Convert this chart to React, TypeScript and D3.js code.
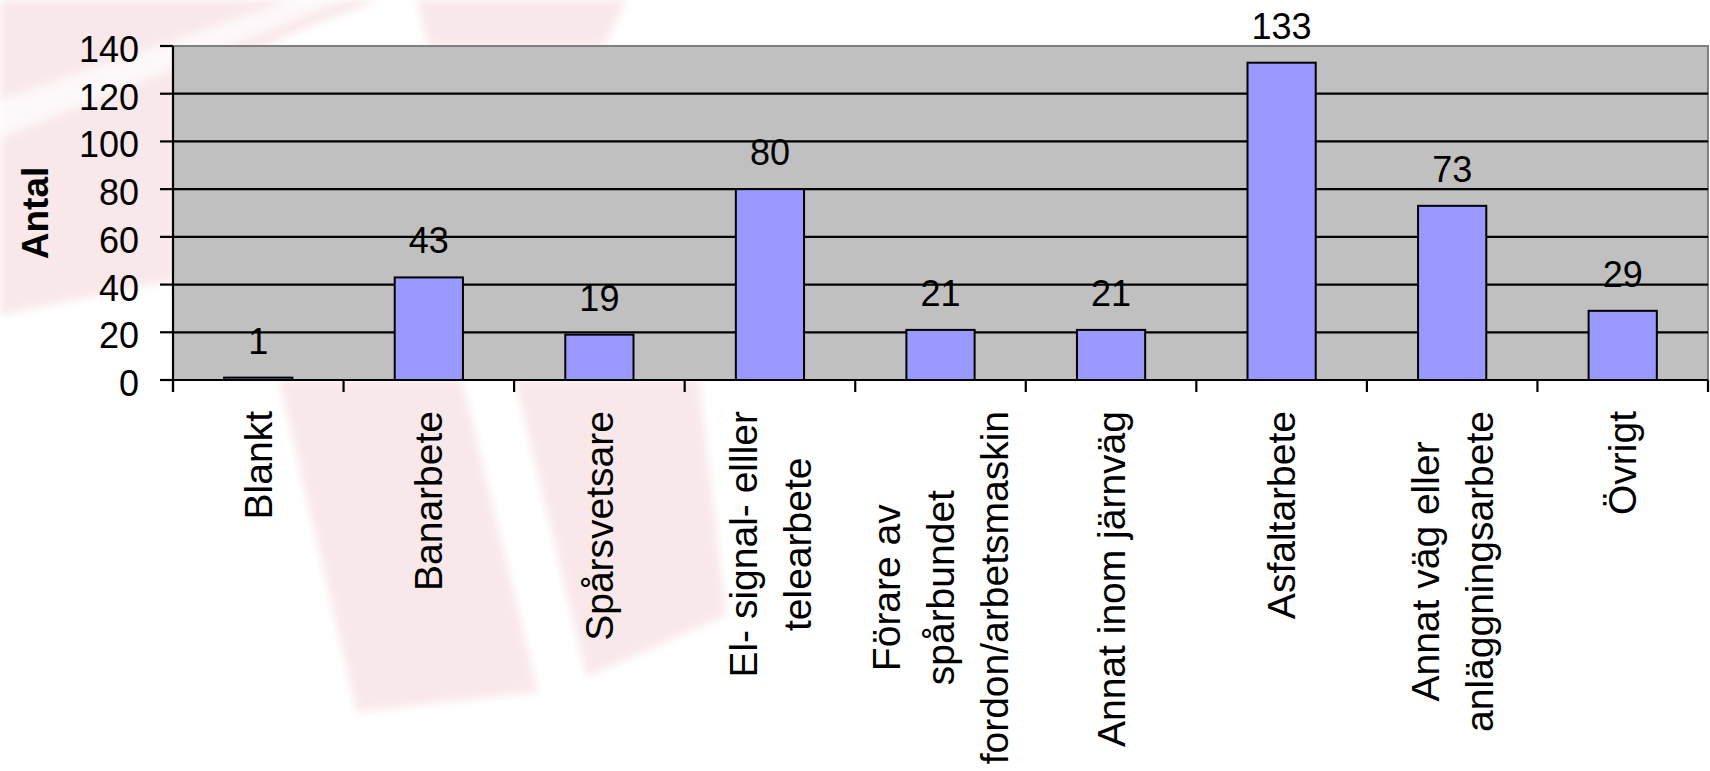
import React, { useEffect, useRef } from "react";
import * as d3 from "d3";

const categories: string[] = [
  "Blankt",
  "Banarbete",
  "Spårsvetsare",
  "El- signal- elller\ntelearbete",
  "Förare av\nspårbundet\nfordon/arbetsmaskin",
  "Annat inom järnväg",
  "Asfaltarbete",
  "Annat väg eller\nanläggningsarbete",
  "Övrigt",
];
const values: number[] = [1, 43, 19, 80, 21, 21, 133, 73, 29];
const yTicks: number[] = [0, 20, 40, 60, 80, 100, 120, 140];
const yTitle = "Antal";

const W = 1710;
const H = 771;
const FONT = "'Liberation Sans', Arial, sans-serif";

// watermark shapes (decorative background)
const watermark: [number, number][][] = [
  [[0, 0], [380, 0], [300, 30], [215, 70], [175, 95], [175, 280], [0, 315]],
  [[417, 0], [627, 0], [604, 46], [428, 46]],
  [[279, 380], [462, 380], [538, 692], [357, 712]],
  [[515, 380], [699, 380], [726, 615], [587, 677]],
];
const watermarkStreak: [number, number][] = [[0, 100], [290, 0], [345, 0], [0, 138]];

export default function App() {
  const ref = useRef<SVGSVGElement>(null);

  useEffect(() => {
    const svg = d3.select(ref.current);
    svg.selectAll("*").remove();

    const left = 173, right = 1708, top = 46, bottom = 380;

    const defs = svg.append("defs");
    defs.append("filter").attr("id", "soft")
      .append("feGaussianBlur").attr("stdDeviation", 4);

    svg.append("rect").attr("width", W).attr("height", H).attr("fill", "#ffffff");

    const wm = svg.append("g").attr("filter", "url(#soft)");
    const line = d3.line();
    watermark.forEach((p) => {
      wm.append("path").attr("d", line(p) + "Z").attr("fill", "#f9e8ea");
    });
    wm.append("path").attr("d", line(watermarkStreak) + "Z").attr("fill", "#ffffff").attr("opacity", 0.7);

    const x = d3.scaleBand<string>().domain(categories).range([left, right]).paddingInner(0).paddingOuter(0);
    const xb = d3.scaleBand<string>().domain(categories).range([left, right]).paddingInner(0.6).paddingOuter(0.3);
    const y = d3.scaleLinear().domain([0, 140]).range([bottom, top]);

    // plot background
    svg.append("rect")
      .attr("x", left).attr("y", y(140))
      .attr("width", right - left).attr("height", y(0) - y(140))
      .attr("fill", "#c0c0c0").attr("stroke", "#808080").attr("stroke-width", 2);

    // gridlines
    svg.append("g").selectAll("line")
      .data(yTicks.filter((t) => t > 0 && t < 140))
      .join("line")
      .attr("x1", left).attr("x2", right)
      .attr("y1", (d) => y(d)).attr("y2", (d) => y(d))
      .attr("stroke", "#000").attr("stroke-width", 2.2);

    // bars
    svg.append("g").selectAll("rect")
      .data(values)
      .join("rect")
      .attr("x", (_d, i) => xb(categories[i])!)
      .attr("y", (d) => y(d))
      .attr("width", xb.bandwidth())
      .attr("height", (d) => y(0) - y(d))
      .attr("fill", "#9999ff")
      .attr("stroke", "#000").attr("stroke-width", 2);

    // value labels
    svg.append("g").selectAll("text")
      .data(values)
      .join("text")
      .attr("x", (_d, i) => xb(categories[i])! + xb.bandwidth() / 2)
      .attr("y", (d) => y(d) - 24)
      .attr("text-anchor", "middle")
      .attr("font-family", FONT).attr("font-size", 36).attr("fill", "#000")
      .text((d) => String(d));

    // y axis
    const ax = svg.append("g");
    ax.append("line").attr("x1", left).attr("x2", left).attr("y1", y(140)).attr("y2", y(0) + 12)
      .attr("stroke", "#000").attr("stroke-width", 2.2);
    ax.selectAll("line.t").data(yTicks).join("line").attr("class", "t")
      .attr("x1", left - 13).attr("x2", left)
      .attr("y1", (d) => y(d)).attr("y2", (d) => y(d))
      .attr("stroke", "#000").attr("stroke-width", 2.2);
    ax.selectAll("text").data(yTicks).join("text")
      .attr("x", 139).attr("y", (d) => y(d) + 16)
      .attr("text-anchor", "end")
      .attr("font-family", FONT).attr("font-size", 36).attr("fill", "#000")
      .text((d) => String(d));

    // x axis
    const bx = svg.append("g");
    bx.append("line").attr("x1", left).attr("x2", right).attr("y1", y(0)).attr("y2", y(0))
      .attr("stroke", "#000").attr("stroke-width", 2.2);
    const bounds = categories.map((c) => x(c)!).concat([right]);
    bx.selectAll("line.t").data(bounds).join("line").attr("class", "t")
      .attr("x1", (d) => d).attr("x2", (d) => d)
      .attr("y1", y(0)).attr("y2", y(0) + 12)
      .attr("stroke", "#000").attr("stroke-width", 2.2);

    // category labels (rotated, block top-aligned, lines centered)
    const labelTop = 411;
    const lh = 54;
    categories.forEach((c) => {
      const lines = c.split("\n");
      const cx = x(c)! + x.bandwidth() / 2;
      const g = bx.append("g");
      const texts = lines.map((ln) =>
        g.append("text")
          .attr("font-family", FONT).attr("font-size", 39).attr("fill", "#000")
          .attr("text-anchor", "middle")
          .attr("dy", "0.35em")
          .text(ln)
      );
      const maxLen = d3.max(texts, (t) => (t.node() as SVGTextElement).getComputedTextLength()) || 0;
      texts.forEach((t, i) => {
        t.attr("transform", `translate(${cx + (i - (lines.length - 1) / 2) * lh},${labelTop + maxLen / 2}) rotate(-90)`);
      });
    });

    // y title
    svg.append("text")
      .attr("transform", `translate(48,${(top + bottom) / 2}) rotate(-90)`)
      .attr("text-anchor", "middle")
      .attr("font-family", FONT).attr("font-size", 37).attr("font-weight", "bold").attr("fill", "#000")
      .text(yTitle);
  }, []);

  return (
    <svg
      ref={ref}
      width={W}
      height={H}
      style={{ position: "absolute", left: 0, top: 0, display: "block" }}
    />
  );
}
